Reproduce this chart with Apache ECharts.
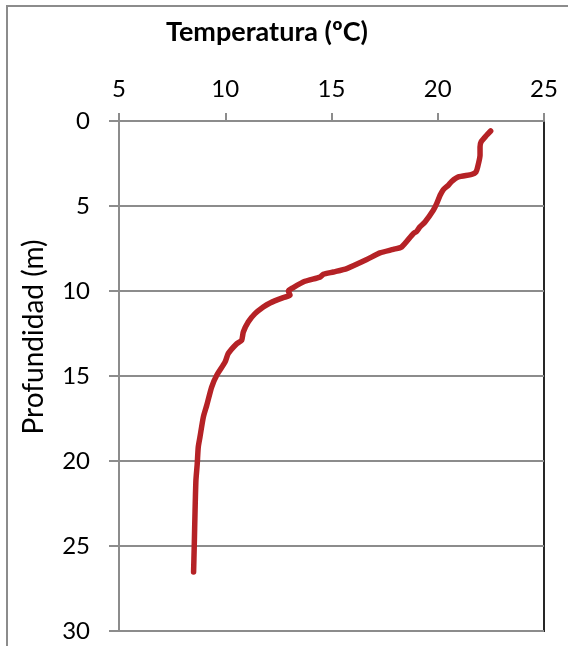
<!DOCTYPE html>
<html>
<head>
<meta charset="utf-8">
<script src="https://cdn.jsdelivr.net/npm/echarts@6/dist/echarts.min.js"></script>
<style>
  html, body { margin: 0; padding: 0; background: #fff; }
  #chart { width: 568px; height: 646px; }
</style>
</head>
<body>
<div id="chart"></div>
<script>
// Temperature profile: temperature (ºC) against depth (m)
const temperature = [
  22.49, 22.30, 22.04, 21.99, 21.99, 21.88, 21.80, 21.60, 20.97, 20.66,
  20.50, 20.26, 20.11, 19.95, 19.79, 19.40, 19.16, 19.01, 18.85, 18.30,
  17.91, 17.28, 16.66, 15.72, 15.09, 14.61, 14.46, 13.75, 13.20, 12.97,
  13.05, 12.73, 12.11, 11.79, 11.40, 11.08, 10.85, 10.77, 10.54, 10.14,
  9.99, 9.60, 9.36, 9.13, 8.97, 8.81, 8.73, 8.68, 8.62, 8.58, 8.54, 8.51
];
const depth = [
  0.59, 0.84, 1.23, 1.53, 2.02, 2.70, 3.00, 3.14, 3.29, 3.55,
  3.78, 4.04, 4.37, 4.86, 5.25, 5.94, 6.23, 6.49, 6.62, 7.41,
  7.55, 7.76, 8.15, 8.68, 8.88, 9.02, 9.18, 9.43, 9.80, 10.00,
  10.25, 10.39, 10.70, 10.94, 11.33, 11.82, 12.41, 12.90, 13.10, 13.68,
  14.18, 14.96, 15.65, 16.72, 17.41, 18.59, 19.18, 20.20, 21.14, 22.90, 25.06, 26.53
];
const xTicks = [5, 10, 15, 20, 25];
const yTicks = [0, 5, 10, 15, 20, 25, 30];

const xTitle = 'Temperatura (ºC)';
const yTitle = 'Profundidad (m)';

const points = temperature.map((t, i) => [t, depth[i]]);

const FONT = 'Lato, "Open Sans", sans-serif';
const chart = echarts.init(document.getElementById('chart'), null, { renderer: 'canvas' });

chart.setOption({
  animation: false,
  backgroundColor: '#ffffff',
  grid: {
    left: 119, top: 121, right: 24, bottom: 15,
    show: true,
    borderColor: '#262626',
    borderWidth: 2,
    backgroundColor: 'transparent'
  },
  graphic: [
    {
      type: 'rect',
      shape: { x: 7, y: 6, width: 700, height: 800 },
      style: { fill: 'none', stroke: '#8c8c8c', lineWidth: 2 },
      silent: true, z: -1
    },
    {
      type: 'text',
      x: 267, y: 32,
      style: {
        text: xTitle, fill: '#000', font: 'bold 27px ' + FONT,
        textAlign: 'center', textVerticalAlign: 'middle'
      }
    },
    {
      type: 'text',
      x: 34, y: 337, rotation: Math.PI / 2,
      style: {
        text: yTitle, fill: '#000', font: '28px ' + FONT,
        textAlign: 'center', textVerticalAlign: 'middle'
      }
    }
  ],
  xAxis: {
    type: 'value',
    position: 'top',
    min: xTicks[0], max: xTicks[xTicks.length - 1], interval: 5,
    axisLine: { show: true, lineStyle: { color: '#8c8c8c', width: 2 } },
    axisTick: { show: true, inside: false, length: 8, lineStyle: { color: '#8c8c8c', width: 2 } },
    axisLabel: { color: '#000', fontSize: 24, fontFamily: FONT, margin: 20 },
    splitLine: { show: false }
  },
  yAxis: {
    type: 'value',
    inverse: true,
    min: yTicks[0], max: yTicks[yTicks.length - 1], interval: 5,
    axisLine: { show: true, lineStyle: { color: '#8c8c8c', width: 2 } },
    axisTick: { show: true, inside: false, length: 10, lineStyle: { color: '#8c8c8c', width: 2 } },
    axisLabel: { color: '#000', fontSize: 24, fontFamily: FONT, margin: 29 },
    splitLine: { show: true, lineStyle: { color: '#8c8c8c', width: 2 } }
  },
  series: [{
    type: 'line',
    data: points,
    showSymbol: false,
    smooth: 0.2,
    lineStyle: { color: '#b52226', width: 5.5, cap: 'round', join: 'round' },
    z: 5
  }]
});
</script>
</body>
</html>
